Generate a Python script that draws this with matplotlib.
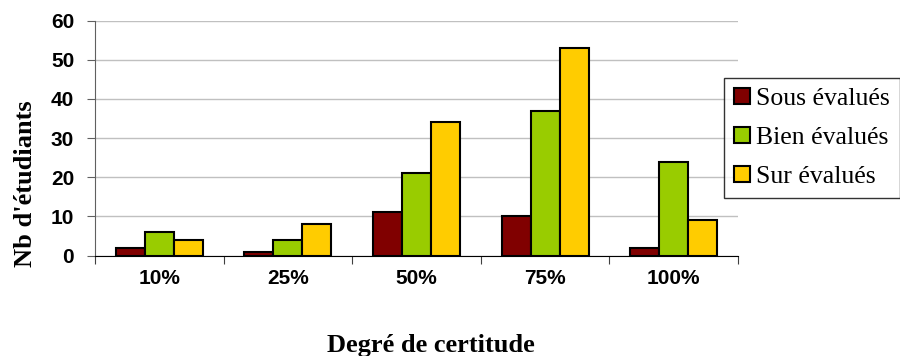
import numpy as np
import matplotlib.pyplot as plt

categories = ["10%", "25%", "50%", "75%", "100%"]
sous = [2, 1, 11, 10, 2]
bien = [6, 4, 21, 37, 24]
sur = [4, 8, 34, 53, 9]
series_names = ["Sous évalués", "Bien évalués", "Sur évalués"]
colors = ["#800000", "#99cc00", "#ffcc00"]

fig = plt.figure(figsize=(9, 3.56), dpi=100)
ax = fig.add_axes([95 / 900, 1 - 255.5 / 356, (738 - 95) / 900, (255.5 - 20.5) / 356])

x = np.arange(len(categories))
w = 0.225
for i, (vals, name, col) in enumerate(zip([sous, bien, sur], series_names, colors)):
    ax.bar(x + (i - 1) * w, vals, w, color=col, edgecolor="black", linewidth=1.5,
           label=name, zorder=3)

ax.set_xlim(-0.5, len(categories) - 0.5)
ax.set_ylim(0, 60)
ax.set_yticks(range(0, 61, 10))
ax.yaxis.grid(True, color="#c0c0c0", linewidth=1, zorder=0)
for s in ["top", "right"]:
    ax.spines[s].set_visible(False)
ax.spines["left"].set_color("#606060")
ax.spines["bottom"].set_color("black")

# category ticks sit between the groups, labels centred under them
ax.set_xticks(np.arange(len(categories) + 1) - 0.5)
ax.set_xticklabels([])
ax.set_xticks(x, minor=True)
ax.set_xticklabels(categories, minor=True, fontfamily="Liberation Sans",
                   fontweight="bold", fontsize=15)
ax.tick_params(axis="x", which="minor", length=0, pad=10)
ax.tick_params(axis="x", which="major", length=6, direction="out", color="#404040")
ax.tick_params(axis="y", length=6, color="#606060", pad=9)
for lab in ax.get_yticklabels():
    lab.set_fontfamily("Liberation Sans")
    lab.set_fontweight("bold")
    lab.set_fontsize(15)

fig.text(431 / 900, 1 - 352 / 356, "Degré de certitude", ha="center", va="baseline",
         fontfamily="Liberation Serif", fontweight="bold", fontsize=19)
fig.text(31.5 / 900, 1 - 184 / 356, "Nb d'étudiants", ha="center", va="baseline",
         rotation=90, rotation_mode="anchor", fontfamily="Liberation Serif",
         fontweight="bold", fontsize=19)

leg = ax.legend(loc="upper left", bbox_to_anchor=(724 / 900, 1 - 78 / 356),
                bbox_transform=fig.transFigure, frameon=True, fancybox=False,
                prop={"family": "Liberation Serif", "size": 18.5},
                handlelength=0.62, handleheight=0.6, handletextpad=0.25,
                borderpad=0.38, labelspacing=0.66, borderaxespad=0)
leg.get_frame().set_edgecolor("black")
leg.get_frame().set_linewidth(1)
for h in leg.legend_handles:
    h.set_linewidth(1.5)

fig.savefig("out.png", dpi=100)
